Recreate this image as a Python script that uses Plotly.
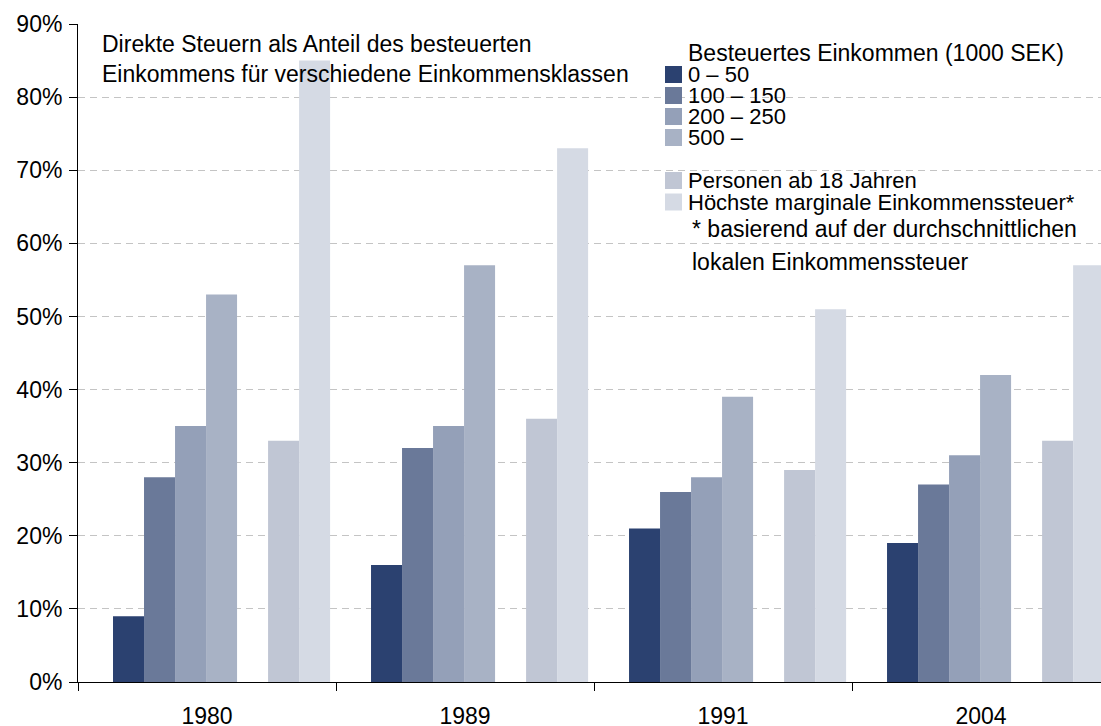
import plotly.graph_objects as go

years = ["1980", "1989", "1991", "2004"]
series_names = ["0 – 50", "100 – 150", "200 – 250", "500 –",
                "Personen ab 18 Jahren", "Höchste marginale Einkommenssteuer*"]
inc_0_50 = [0.09, 0.16, 0.21, 0.19]
inc_100_150 = [0.28, 0.32, 0.26, 0.27]
inc_200_250 = [0.35, 0.35, 0.28, 0.31]
inc_500 = [0.53, 0.57, 0.39, 0.42]
personen = [0.33, 0.36, 0.29, 0.33]
hoechste = [0.85, 0.73, 0.51, 0.57]
colors = ["#2b4170", "#6a7999", "#94a0b8", "#a8b2c5", "#c0c6d4", "#d5dae4"]
y_ticks = [0, 0.1, 0.2, 0.3, 0.4, 0.5, 0.6, 0.7, 0.8, 0.9]
y_labels = ["0%", "10%", "20%", "30%", "40%", "50%", "60%", "70%", "80%", "90%"]
legend_title = "Besteuertes Einkommen (1000 SEK)"
chart_title = ["Direkte Steuern als Anteil des besteuerten",
               "Einkommens für verschiedene Einkommensklassen"]
footnote = ["* basierend auf der durchschnittlichen", "lokalen Einkommenssteuer"]

FONT = "Liberation Sans, Arial, sans-serif"
FS = 23
FL = 22

# plot area geometry (pixels)
L, T, B = 78, 24, 44
W, H = 1101, 726
PW, PH = W - L, H - T - B


def px(x):
    return (x - L) / PW


def py(y):
    return (H - B - y) / PH


fig = go.Figure()
all_vals = [inc_0_50, inc_100_150, inc_200_250, inc_500, personen, hoechste]
slots = [0, 1, 2, 3, 5, 6]  # slot 4 is left empty
bw = 0.1202
start = -0.3643
for name, vals, col, s in zip(series_names, all_vals, colors, slots):
    fig.add_trace(go.Bar(x=years, y=vals, name=name, marker_color=col,
                         marker_line_width=0, width=bw, offset=start + s * bw,
                         showlegend=False))

fig.update_layout(
    width=W, height=H,
    margin=dict(l=L, r=0, t=T, b=B),
    paper_bgcolor="white", plot_bgcolor="white",
    barmode="overlay",
    font=dict(family=FONT, size=FS, color="black"),
    showlegend=False,
    xaxis=dict(
        type="category", range=[-0.5, 3.465], automargin=False,
        showline=True, linecolor="black", linewidth=1,
        ticks="outside", tickson="boundaries", ticklen=8, tickcolor="black",
        ticklabelstandoff=13,
        tickfont=dict(family=FONT, size=FS, color="black"),
        showgrid=False,
    ),
    yaxis=dict(
        range=[0, 0.9], tickvals=y_ticks, ticktext=y_labels, automargin=False,
        showline=True, linecolor="black", linewidth=1,
        ticks="outside", ticklen=8, tickcolor="black",
        ticklabelstandoff=2,
        tickfont=dict(family=FONT, size=FS, color="black"),
        showgrid=True, gridcolor="#c4c4c4", griddash="7px,5px", gridwidth=1,
        zeroline=False,
    ),
)


def text(t, x, y, size=FS):
    fig.add_annotation(text=t, xref="paper", yref="paper", x=px(x), y=py(y),
                       xanchor="left", yanchor="middle", showarrow=False,
                       font=dict(family=FONT, size=size, color="black"))


# chart title
text(chart_title[0], 100, 44)
text(chart_title[1], 100, 74)

# manual legend
text(legend_title, 686, 53)
row_y = [74.5, 95.5, 116.5, 137.5, 180.5, 202]
for name, col, yy in zip(series_names, colors, row_y):
    fig.add_shape(type="rect", xref="paper", yref="paper",
                  x0=px(665), x1=px(682), y0=py(yy - 8.5), y1=py(yy + 8.5),
                  fillcolor=col, line_width=0, layer="above")
    text(name, 686, yy, FL)

text(footnote[0], 690, 229)
text(footnote[1], 690, 262)

fig.write_html("out.html", config={"displayModeBar": False},
               post_script="document.body.style.margin='0px';")
